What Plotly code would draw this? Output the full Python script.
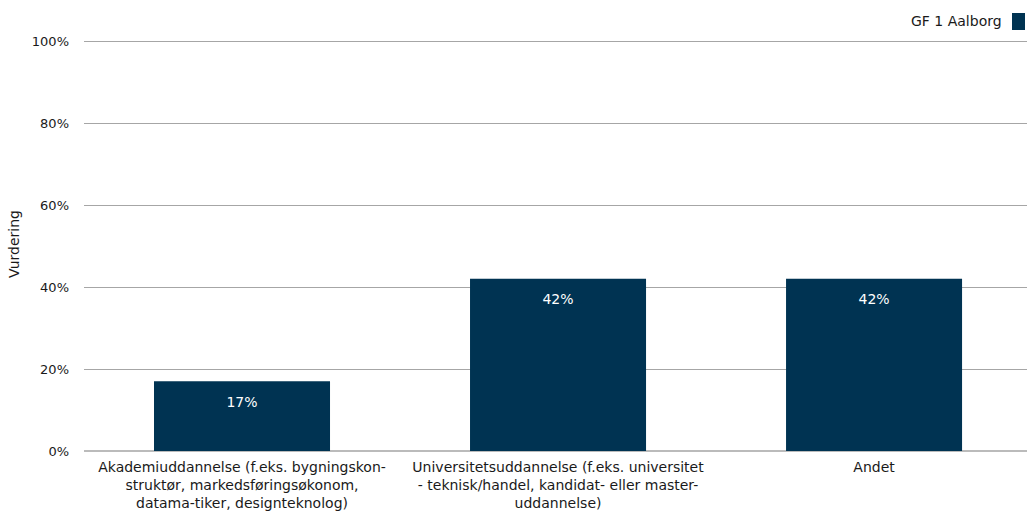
import plotly.graph_objects as go

categories = [
    "Akademiuddannelse (f.eks. bygningskon-<br>struktør, markedsføringsøkonom,<br>datama-tiker, designteknolog)",
    "Universitetsuddannelse (f.eks. universitet<br>- teknisk/handel, kandidat- eller master-<br>uddannelse)",
    "Andet",
]
values = [0.17, 0.42, 0.42]
labels = ["17%", "42%", "42%"]
series_name = "GF 1 Aalborg"
y_ticks = [0, 0.2, 0.4, 0.6, 0.8, 1.0]

BAR = "#003352"
FONT = "DejaVu Sans"
TXT = "#1a1a1a"
x = list(range(len(categories)))

W, H = 1027, 517
L, T, B = 84, 37, 66
PW = W - L
PH = H - T - B          # 414 px
YTOP = PH / 410.0       # so that 100% sits 410 px above 0%

fig = go.Figure()
fig.add_trace(go.Bar(x=x, y=values, width=0.557, marker=dict(color=BAR, line=dict(width=0)),
                     name=series_name, showlegend=False, hoverinfo="skip"))
fig.add_trace(go.Scatter(x=x, y=values, mode="markers+text", text=labels,
                         textposition="bottom center",
                         marker=dict(size=22, opacity=0),
                         textfont=dict(color="white", size=14, family=FONT),
                         showlegend=False, hoverinfo="skip"))

fig.update_layout(
    width=W, height=H,
    margin=dict(l=L, r=0, t=T, b=B, autoexpand=False),
    plot_bgcolor="white", paper_bgcolor="white",
    font=dict(family=FONT, size=14, color=TXT),
    xaxis=dict(tickmode="array", tickvals=x, ticktext=categories, range=[-0.5, 2.484],
               showgrid=False, zeroline=False, showline=False, ticks="",
               ticklabelstandoff=6, automargin=False,
               tickfont=dict(size=14), fixedrange=True),
    yaxis=dict(range=[0, YTOP], tickvals=y_ticks, tickformat=".0%", showgrid=True,
               gridcolor="#a6a6a6", gridwidth=1, zeroline=True, zerolinecolor="#bbbbbb",
               zerolinewidth=2, showline=False, ticks="", ticklabelstandoff=14,
               automargin=False, fixedrange=True,
               title=dict(text="Vurdering", font=dict(size=14), standoff=8),
               tickfont=dict(size=13)),
    bargap=0.443,
)
fig.add_annotation(text=series_name, xref="paper", yref="paper", x=(1004 - L) / PW, y=1.0,
                   yshift=(T - 21), xanchor="right", yanchor="middle", showarrow=False,
                   font=dict(size=14, family=FONT, color=TXT))
fig.add_shape(type="rect", xref="paper", yref="paper",
              x0=(1012 - L) / PW, x1=(1025 - L) / PW,
              y0=1 + (T - 30) / PH, y1=1 + (T - 13) / PH,
              fillcolor=BAR, line=dict(width=0))

fig.write_html("out.html", config={"displayModeBar": False},
               post_script="document.body.style.margin='0';")
